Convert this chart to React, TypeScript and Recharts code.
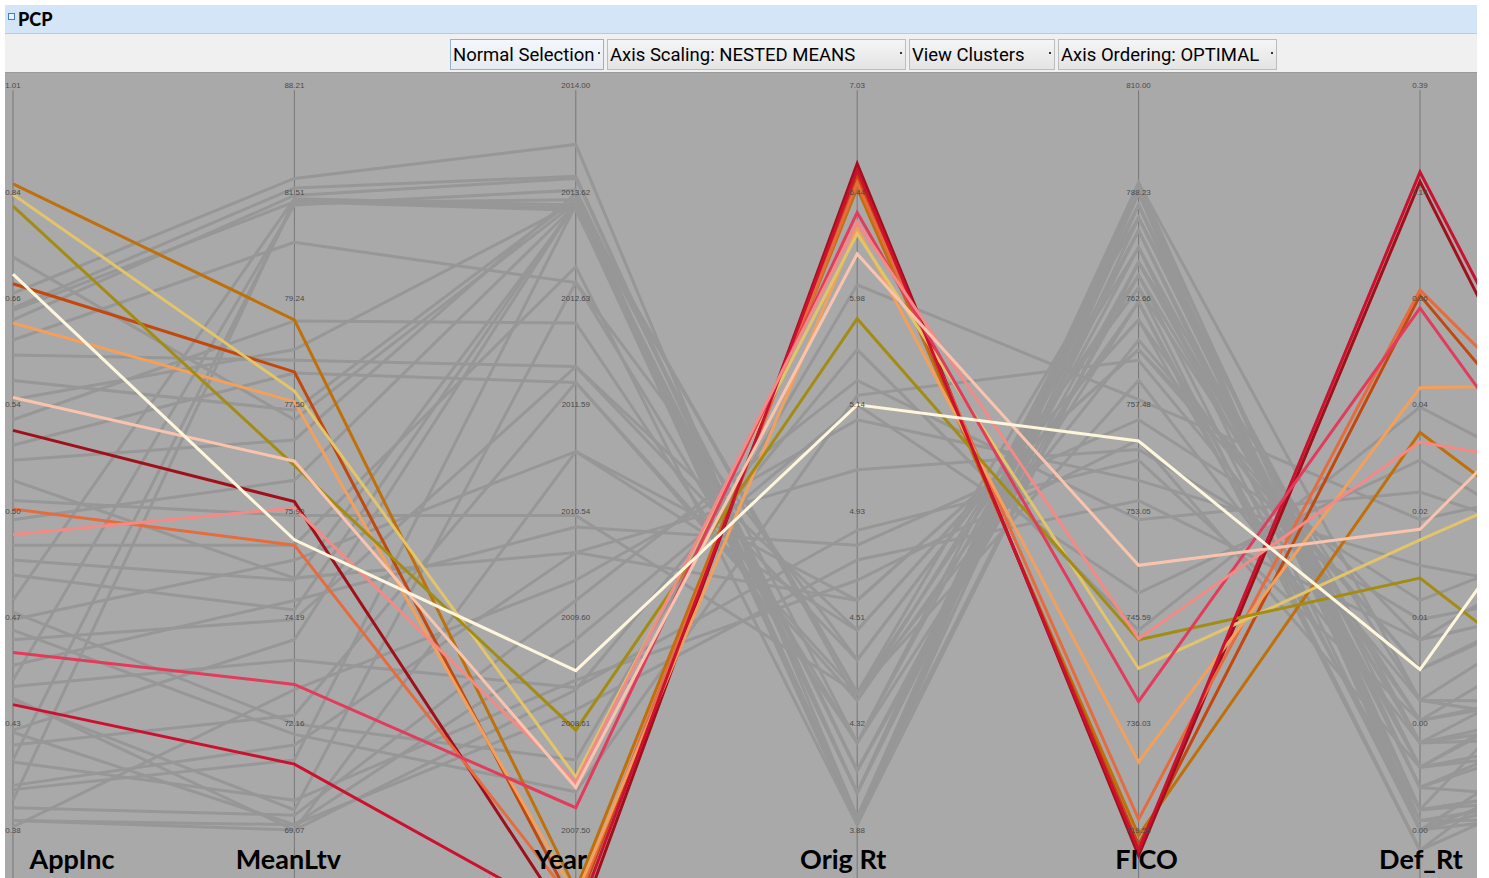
import React from "react";
import { LineChart, Line, XAxis, YAxis, ReferenceLine, ReferenceDot } from "recharts";

// axes of the parallel coordinate plot, left to right
const axisNames = ["AppInc", "MeanLtv", "Year", "Orig Rt", "FICO", "Def_Rt"];

// tick labels per axis, top to bottom (nested means scaling -> evenly spaced)
const appIncTicks = ["1.01", "0.84", "0.66", "0.54", "0.50", "0.47", "0.43", "0.38"];
const meanLtvTicks = ["88.21", "81.51", "79.24", "77.50", "75.90", "74.19", "72.16", "69.07"];
const yearTicks = ["2014.00", "2013.62", "2012.63", "2011.59", "2010.54", "2009.60", "2008.61", "2007.50"];
const origRtTicks = ["7.03", "6.44", "5.98", "5.14", "4.93", "4.51", "4.32", "3.88"];
const ficoTicks = ["810.00", "788.23", "762.66", "757.48", "753.05", "745.59", "736.03", "719.58"];
const defRtTicks = ["0.39", "0.14", "0.06", "0.04", "0.02", "0.01", "0.00", "0.00"];
const tickLabels = [appIncTicks, meanLtvTicks, yearTicks, origRtTicks, ficoTicks, defRtTicks];

// record positions in tick units (0 = lowest tick, 7 = highest tick)
// 7 values: the six axes + the next axis, which is cut off at the right edge
const darkOrange = [6.08, 4.8, -0.56, 6.04, -0.05, 3.74, 1.75];
const brick = [5.14, 4.31, -0.75, 6.15, -0.14, 5.03, 1.88];
const darkRed = [3.76, 3.09, -0.96, 6.27, -0.24, 6.1, 0.86];
const coral = [3.02, 2.68, -0.7, 6.09, 0.1, 5.08, 2.44];
const lightOrange = [4.77, 4.03, -0.62, 5.66, 0.64, 4.16, 4.21];
const khaki = [5.98, 4.13, 0.5, 5.61, 1.52, 2.73, 3.89];
const olive = [5.87, 3.43, 0.94, 4.81, 1.79, 2.37, 0.33];
const crimson = [1.18, 0.62, -0.85, 6.21, -0.19, 6.19, 1.09];
const pinkRed = [1.67, 1.37, 0.21, 5.81, 1.21, 4.91, 1.25];
const salmon = [2.78, 3.03, 0.45, 5.72, 1.8, 3.65, 3.19];
const peach = [4.07, 3.47, 0.4, 5.42, 2.49, 2.83, 5.48];
const cream = [5.23, 2.73, 1.5, 4.0, 3.66, 1.51, 5.21];

const selectedRecords = [darkOrange, brick, darkRed, coral, lightOrange, khaki, olive, crimson, pinkRed, salmon, peach, cream];
const selectedColors = ["#c0700a", "#c2480e", "#a0101a", "#e66c40", "#f2a05c", "#e2c46a", "#a28c14", "#cc1030", "#e23c5c", "#f48a86", "#f9c4ae", "#fdf6dc"];

// unselected records
const grayRecords = [
  [5.05, 6.13, 6.45, 0.12, 6.09, 0.19, 3.0],
  [4.91, 6.04, 6.15, 0.35, 6.02, 0.4, 1.5],
  [5.39, 3.86, 5.9, 0.05, 5.88, 0.09, 0.5],
  [2.16, 5.94, 5.88, 1.29, 5.76, 0.82, 2.2],
  [0.66, 5.9, 5.93, 1.22, 5.48, 0.59, 0.9],
  [0.28, 5.93, 5.85, 0.12, 5.34, 1.22, 1.2],
  [1.41, 5.88, 6.02, 0.56, 5.22, 0.0, 0.3],
  [4.61, 5.53, 5.15, 1.6, 5.1, 1.03, 2.6],
  [3.86, 4.79, 4.77, 0.82, 4.97, -0.19, 1.0],
  [4.47, 4.42, 4.36, 1.88, 4.8, 0.19, 0.6],
  [3.62, 4.3, 4.21, 1.29, 4.61, 1.51, 2.8],
  [2.54, 2.35, 5.88, 0.12, 5.99, 0.0, 1.7],
  [0.94, 1.79, 5.9, 0.35, 5.64, 0.4, 0.2],
  [1.98, 2.54, 3.56, 2.16, 4.52, 1.79, 2.4],
  [3.1, 2.96, 2.96, 1.29, 4.23, 0.82, 1.4],
  [1.55, 2.16, 2.85, 2.68, 3.86, 2.16, 3.2],
  [0.42, 0.8, 2.61, 3.39, 3.58, 1.98, 2.5],
  [0.03, 1.32, 2.35, 3.86, 3.29, 2.49, 2.0],
  [0.21, 0.14, 2.16, 4.23, 2.92, 3.18, 2.3],
  [0.92, 0.05, 1.79, 4.0, 2.23, 3.48, 1.9],
  [1.24, 0.0, 1.32, 4.52, 1.88, 3.98, 2.6],
  [2.05, 1.0, 0.66, 5.13, 4.05, 2.92, 3.5],
  [1.88, 0.9, 0.36, 4.09, 4.42, 1.22, 0.8],
  [1.35, 1.6, 1.34, 2.82, 3.48, 1.03, 1.6],
  [0.64, 0.28, 1.41, 2.35, 3.67, 0.59, 1.1],
  [4.23, 3.95, 5.94, 0.82, 5.88, 0.19, 0.4],
  [3.48, 3.67, 5.99, 0.12, 5.76, 0.4, 1.3],
  [2.92, 3.29, 5.88, 0.56, 5.48, 0.0, 0.7],
  [2.68, 2.68, 5.3, 0.05, 5.34, 0.59, 2.1],
  [2.4, 2.07, 5.9, 1.29, 5.22, 0.82, 0.9],
  [1.79, 1.98, 4.36, 1.6, 5.1, -0.19, 1.8],
  [0.8, 1.08, 4.21, 1.22, 4.97, 0.09, 0.1],
  [0.38, 0.66, 5.88, 0.35, 6.09, 1.22, 2.9],
  [0.09, 0.0, 3.56, 1.88, 4.8, 1.03, 1.5],
  [4.05, 4.52, 5.9, 0.12, 6.02, 0.0, 1.0],
  [3.29, 2.37, 2.61, 2.16, 4.52, 1.51, 2.7],
  [1.22, 0.19, 5.15, 0.82, 5.64, 0.19, 0.6],
  [0.09, 0.05, 1.13, 2.54, 3.1, 1.79, 3.4],
  [4.89, 5.91, 5.83, 0.56, 5.34, 0.82, 1.2],
  [4.8, 5.97, 6.13, 0.35, 5.88, 0.59, 2.0],
];

// plot frame: axis i sits at 8 + 281.4*i px, tick k at 757 - 106.29*k px
const X_DOMAIN = [-0.0284, 5.2026];
const Y_DOMAIN = [-0.4514, 7.1223];
const nameDx = [59, -6, -15, -14, 8, 1];

const toRows = (vals: number[]) => vals.map((v, i) => ({ x: i, v }));

const textLabel =
  (txt: string, style: { size: number; weight?: number | string; fill: string; dx?: number; family: string; baseline?: string }) =>
  (props: any) => {
    const vb = props.viewBox || { x: 0, y: 0, width: 0, height: 0 };
    const cx = vb.x + vb.width / 2 + (style.dx || 0);
    const cy = vb.y + vb.height / 2;
    return (
      <text
        x={cx}
        y={cy}
        textAnchor="middle"
        dominantBaseline={style.baseline || "central"}
        fontSize={style.size}
        fontWeight={style.weight || "normal"}
        fontFamily={style.family}
        fill={style.fill}
      >
        {txt}
      </text>
    );
  };

const buttons = [
  { label: "Normal Selection", left: 450, width: 154, focused: true },
  { label: "Axis Scaling: NESTED MEANS", left: 607, width: 299, focused: false },
  { label: "View Clusters", left: 909, width: 146, focused: false },
  { label: "Axis Ordering: OPTIMAL", left: 1058, width: 219, focused: false },
];

export default function App() {
  return (
    <div style={{ position: "relative", width: 1489, height: 878, background: "#ffffff", overflow: "hidden" }}>
      <style>{`body{margin:0}`}</style>

      {/* title bar */}
      <div
        style={{
          position: "absolute",
          left: 5,
          top: 5,
          width: 1472,
          height: 28,
          background: "#d4e5f8",
          borderBottom: "1px solid #bccbdc",
        }}
      >
        <div
          style={{
            position: "absolute",
            left: 3,
            top: 8,
            width: 5,
            height: 5,
            border: "1px solid #3a7fd0",
            background: "#e8f2fc",
          }}
        />
        <div
          style={{
            position: "absolute",
            left: 13,
            top: 3,
            fontFamily: "Lato, sans-serif",
            fontWeight: 900,
            fontSize: 18,
            color: "#000",
          }}
        >
          PCP
        </div>
      </div>

      {/* toolbar */}
      <div
        style={{
          position: "absolute",
          left: 5,
          top: 34,
          width: 1472,
          height: 38,
          background: "#f0f0f0",
          borderBottom: "1px solid #9a9a9a",
        }}
      />
      {buttons.map((b) => (
        <div
          key={b.label}
          style={{
            position: "absolute",
            left: b.left,
            top: 39,
            width: b.width,
            height: 31,
            boxSizing: "border-box",
            border: b.focused ? "1px solid #8fb2d8" : "1px solid #bcbcbc",
            background: b.focused
              ? "linear-gradient(#f4f7fb, #e6ebf2)"
              : "linear-gradient(#f5f5f5, #e4e4e4)",
            fontFamily: "Roboto, sans-serif",
            fontSize: 18.5,
            lineHeight: "30px",
            paddingLeft: 2,
            color: "#000",
            whiteSpace: "nowrap",
          }}
        >
          {b.label}
          <div
            style={{
              position: "absolute",
              right: 3,
              top: 12,
              width: 2,
              height: 2,
              background: "#333",
            }}
          />
        </div>
      ))}

      {/* plot */}
      <div style={{ position: "absolute", left: 5, top: 73 }}>
        <LineChart
          width={1472}
          height={805}
          margin={{ top: 0, right: 0, bottom: 0, left: 0 }}
          style={{ background: "#a9a9a9" }}
        >
          <XAxis type="number" dataKey="x" domain={X_DOMAIN} allowDataOverflow hide />
          <YAxis type="number" dataKey="v" domain={Y_DOMAIN} allowDataOverflow hide />

          {axisNames.map((name, i) => (
            <ReferenceLine
              key={"axis-" + name}
              segment={[
                { x: i, y: 6.96 },
                { x: i, y: Y_DOMAIN[0] },
              ]}
              stroke="#777777"
              strokeWidth={1}
            />
          ))}

          {tickLabels.map((ticks, i) =>
            ticks.map((t, k) => (
              <ReferenceDot
                key={"tick-" + i + "-" + k}
                x={i}
                y={7 - k}
                r={1}
                fill="none"
                stroke="none"
                label={textLabel(t, { size: 8, fill: "#4a4a4a", family: "'Liberation Sans', Arial, sans-serif" })}
              />
            ))
          )}

          {grayRecords.map((rec, idx) => (
            <Line
              key={"gray-" + idx}
              data={toRows(rec)}
              dataKey="v"
              type="linear"
              stroke="#979797"
              strokeWidth={3}
              dot={false}
              activeDot={false}
              isAnimationActive={false}
            />
          ))}

          {selectedRecords.map((rec, idx) => (
            <Line
              key={"sel-" + idx}
              data={toRows(rec)}
              dataKey="v"
              type="linear"
              stroke={selectedColors[idx]}
              strokeWidth={3}
              dot={false}
              activeDot={false}
              isAnimationActive={false}
            />
          ))}

          {axisNames.map((name, i) => (
            <ReferenceDot
              key={"name-" + name}
              x={i}
              y={-0.37}
              r={1}
              fill="none"
              stroke="none"
              label={textLabel(name, {
                size: 27,
                weight: 700,
                fill: "#000",
                dx: nameDx[i],
                family: "Lato, sans-serif",
                baseline: "alphabetic",
              })}
            />
          ))}
        </LineChart>
      </div>
    </div>
  );
}
